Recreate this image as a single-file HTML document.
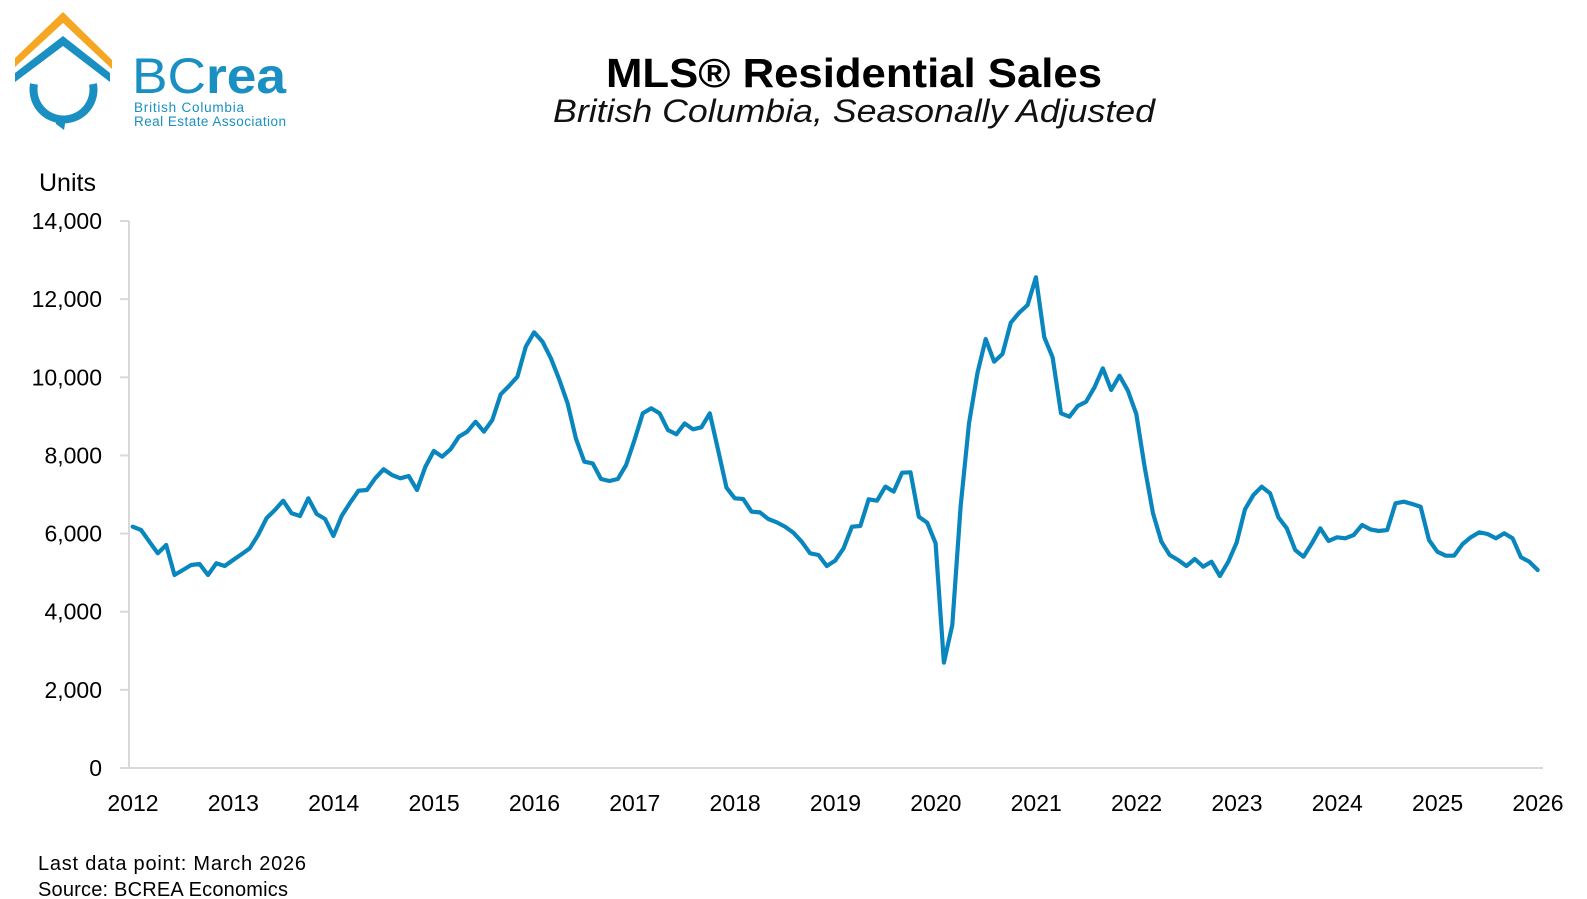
<!DOCTYPE html>
<html><head><meta charset="utf-8"><style>
html,body{margin:0;padding:0;background:#fff;}
svg{display:block;font-family:"Liberation Sans",sans-serif;}
</style></head><body>
<svg id="chart" width="1587" height="899" viewBox="0 0 1587 899">
  <g>
    <polygon points="15,58 63,12 112,60 112,69 63,23 15,67" fill="#f5a623"/>
    <polygon points="15,73 63,36 110,73 110,82 63,46 15,82" fill="#1a8fc2"/>
    <path d="M34,84 A30,30 0 1 0 93,84" fill="none" stroke="#1a8fc2" stroke-width="8"/>
    <polygon points="54,114 66,118 64,130 56,124" fill="#1a8fc2"/>
    <text x="132" y="93" font-size="50" fill="#1a8fc2" textLength="154" lengthAdjust="spacingAndGlyphs"><tspan>BC</tspan><tspan font-weight="bold">rea</tspan></text>
    <text x="134" y="112" font-size="13.5" fill="#1a8fc2" textLength="110">British Columbia</text>
    <text x="134" y="126" font-size="13.5" fill="#1a8fc2" textLength="152">Real Estate Association</text>
  </g>
  <text x="854" y="87" text-anchor="middle" font-size="41" font-weight="bold" fill="#000" textLength="496" lengthAdjust="spacingAndGlyphs">MLS® Residential Sales</text>
  <text x="854" y="122" text-anchor="middle" font-size="32" font-style="italic" fill="#111" textLength="602" lengthAdjust="spacingAndGlyphs">British Columbia, Seasonally Adjusted</text>
  <text x="39" y="191" font-size="25" fill="#000">Units</text>
  <g id="axes"></g>
  <g id="series"></g>
  <text x="38" y="870" font-size="20" fill="#000" textLength="268">Last data point: March 2026</text>
  <text x="38" y="896" font-size="20" fill="#000" textLength="250">Source: BCREA Economics</text>
</svg>
<script>
const yTicks = [0, 2000, 4000, 6000, 8000, 10000, 12000, 14000];
const yTickLabels = ["0", "2,000", "4,000", "6,000", "8,000", "10,000", "12,000", "14,000"];
const xYears = [2012, 2013, 2014, 2015, 2016, 2017, 2018, 2019, 2020, 2021, 2022, 2023, 2024, 2025, 2026];
const sales = [
6177,6091,5793,5494,5707,4940,5068,5196,5221,4940,5238,5170,5324,5469,5622,5963,6390,6603,6842,6518,
6450,6902,6501,6373,5938,6458,6791,7098,7115,7414,7644,7499,7414,7473,7115,7712,8113,7968,8156,8480,
8608,8864,8608,8907,9564,9777,10016,10783,
11151,10912,10485,9947,9333,8437,7840,7797,7397,7346,7397,7755,8395,9077,9205,9077,8651,8540,8821,8668,
8719,9077,8139,7175,6902,6885,6561,6543,6373,6288,6177,6023,5793,5494,5452,5170,5307,5622,6177,6194,
6876,6842,7201,7073,7559,7567,6433,6279,5750,2696,3660,6689,8821,10101,10980,10400,
10596,11398,11654,11850,12558,11023,10511,9077,8992,9265,9376,9743,10229,9675,10041,9657,9060,7712,6518,5793,
5452,5324,5170,5349,5153,5281,4914,
5281,5767,6620,6987,7200,7030,6416,6134,5579,5409,5750,6134,5810,5904,5878,5963,6219,6108,6066,6091,
6774,6816,6757,6689,5835,5537,5434,5434,5725,5904,6032,5989,5878,6006,5878,5392,5281,5068
];
const NS = "http://www.w3.org/2000/svg";
const plot = {left: 129, right: 1543, top: 221, bottom: 768};
const yMax = 14000;
function yScale(v){ return plot.bottom - v / yMax * (plot.bottom - plot.top); }
const firstX = 132.7, lastX = 1537.7;
function xScale(i){ return firstX + i * (lastX - firstX) / (sales.length - 1); }
function yearX(k){ return 133 + k * (1538 - 133) / (xYears.length - 1); }
const axes = document.getElementById('axes');
const series = document.getElementById('series');
function mk(tag, attrs, parent){ const e = document.createElementNS(NS, tag); for (const k in attrs) e.setAttribute(k, attrs[k]); parent.appendChild(e); return e; }

const yAxis = mk('line', {x1: plot.left, y1: plot.top, x2: plot.left, y2: plot.bottom, stroke: '#d9d9d9', 'stroke-width': 2}, axes);


const xAxis = mk('line', {x1: plot.left - 9, y1: plot.bottom, x2: plot.right, y2: plot.bottom, stroke: '#d9d9d9', 'stroke-width': 2}, axes);



yTicks.forEach((v, i) => {
  const y = yScale(v);
  const t = mk('line', {x1: plot.left - 9, y1: y, x2: plot.left, y2: y, stroke: '#d9d9d9', 'stroke-width': 2}, axes);
  
  
  const lab = mk('text', {x: 102, y: y + 8, 'text-anchor': 'end', 'font-size': 23, fill: '#000'}, axes);
  lab.textContent = yTickLabels[i];
  
  
});
xYears.forEach((yr, k) => {
  const lab = mk('text', {x: yearX(k), y: 811, 'text-anchor': 'middle', 'font-size': 23, fill: '#000'}, axes);
  lab.textContent = String(yr);
  
  
});
const pts = sales.map((v, i) => xScale(i).toFixed(1) + ',' + yScale(v).toFixed(1)).join(' ');
const line = mk('polyline', {points: pts, fill: 'none', stroke: '#0a86bf', 'stroke-width': 4.2, 'stroke-linejoin': 'round', 'stroke-linecap': 'round'}, series);


</script>
</body></html>
